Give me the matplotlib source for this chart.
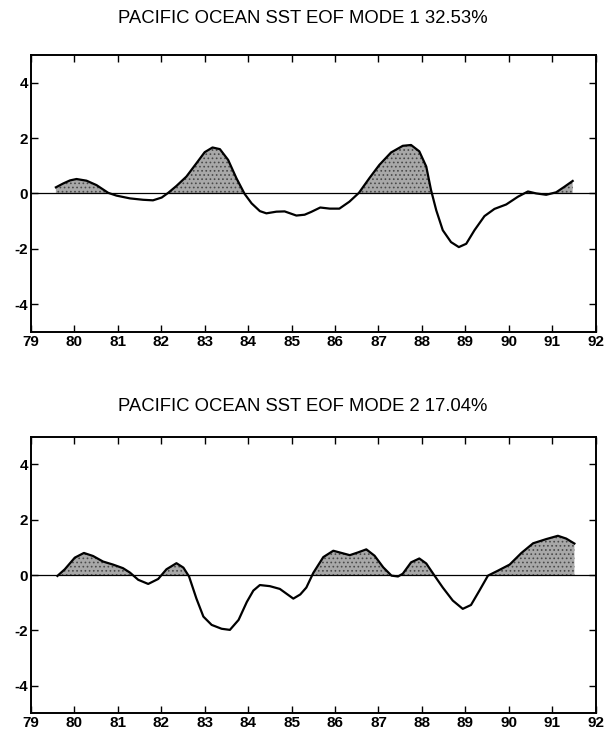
import numpy as np
import matplotlib
matplotlib.use("Agg")
import matplotlib.pyplot as plt

plt.rcParams["font.family"] = ["Liberation Sans", "DejaVu Sans"]
plt.rcParams["axes.unicode_minus"] = False
plt.rcParams["hatch.linewidth"] = 0.7

# ------------------------------------------------------------------
# values (year, EOF amplitude)
# ------------------------------------------------------------------
mode1_year = [79.575, 79.745, 79.9, 80.05, 80.28, 80.51, 80.78, 80.97, 81.28, 81.58,
              81.81, 82.01, 82.16, 82.35, 82.58, 82.81, 83.0, 83.18, 83.35, 83.54,
              83.73, 83.92, 84.08, 84.27, 84.42, 84.65, 84.84, 85.11, 85.3, 85.45,
              85.66, 85.88, 86.1, 86.33, 86.55, 86.79, 87.02, 87.29, 87.56, 87.75,
              87.94, 88.1, 88.21, 88.33, 88.48, 88.67, 88.85, 89.02, 89.21, 89.44,
              89.67, 89.94, 90.21, 90.44, 90.63, 90.86, 91.09, 91.28, 91.47]
mode1_amp = [0.22, 0.36, 0.47, 0.52, 0.46, 0.30, 0.02, -0.08, -0.18, -0.23,
             -0.25, -0.15, 0.02, 0.27, 0.61, 1.09, 1.49, 1.66, 1.6, 1.21,
             0.55, -0.02, -0.36, -0.64, -0.72, -0.66, -0.65, -0.8, -0.77, -0.67,
             -0.51, -0.55, -0.55, -0.3, 0.02, 0.55, 1.03, 1.48, 1.72, 1.75,
             1.52, 0.97, 0.12, -0.61, -1.33, -1.76, -1.94, -1.82, -1.33, -0.82,
             -0.56, -0.4, -0.12, 0.07, 0.0, -0.05, 0.04, 0.24, 0.45]

mode2_year = [79.61, 79.78, 80.01, 80.22, 80.43, 80.66, 80.89, 81.12, 81.28, 81.47,
              81.7, 81.93, 82.12, 82.35, 82.51, 82.64, 82.81, 82.97, 83.16, 83.39,
              83.58, 83.78, 83.97, 84.12, 84.27, 84.5, 84.73, 85.04, 85.2, 85.34,
              85.5, 85.73, 85.96, 86.15, 86.34, 86.53, 86.72, 86.91, 87.11, 87.3,
              87.45, 87.56, 87.75, 87.94, 88.1, 88.29, 88.48, 88.71, 88.94, 89.13,
              89.32, 89.52, 89.75, 90.02, 90.29, 90.56, 90.86, 91.13, 91.32, 91.51]
mode2_amp = [-0.03, 0.21, 0.63, 0.8, 0.69, 0.49, 0.38, 0.25, 0.09, -0.17,
             -0.32, -0.14, 0.21, 0.43, 0.27, -0.05, -0.85, -1.5, -1.8, -1.94,
             -1.98, -1.62, -0.97, -0.56, -0.36, -0.4, -0.5, -0.85, -0.7, -0.45,
             0.08, 0.65, 0.88, 0.8, 0.72, 0.82, 0.93, 0.7, 0.28, -0.02,
             -0.05, 0.05, 0.46, 0.6, 0.42, -0.02, -0.45, -0.92, -1.22, -1.08,
             -0.57, -0.02, 0.16, 0.38, 0.8, 1.15, 1.3, 1.42, 1.32, 1.14]

titles = ["PACIFIC OCEAN SST EOF MODE 1 32.53%",
          "PACIFIC OCEAN SST EOF MODE 2 17.04%"]
xticks = list(range(79, 93))
yticks = [-4, -2, 0, 2, 4]

fig = plt.figure(figsize=(6.06, 7.34), dpi=100)
ax1 = fig.add_axes([0.051, 0.548, 0.932, 0.377])
ax2 = fig.add_axes([0.051, 0.028, 0.932, 0.377])

for ax, xs, ys, title, ty in [(ax1, mode1_year, mode1_amp, titles[0], 0.975),
                              (ax2, mode2_year, mode2_amp, titles[1], 0.446)]:
    x = np.array(xs)
    y = np.array(ys)
    # stippled grey fill above zero
    ax.fill_between(x, y, 0, where=y > 0, interpolate=True,
                    facecolor="#a8a8a8", edgecolor="#4a4a4a", hatch="....",
                    linewidth=0)
    ax.plot(x, y, color="black", lw=1.6, solid_joinstyle="round")
    ax.axhline(0, color="black", lw=0.9)
    ax.set_xlim(79, 92)
    ax.set_ylim(-5, 5)
    ax.set_xticks(xticks)
    ax.set_xticklabels([str(v) for v in xticks], fontweight="bold", fontsize=11)
    ax.set_yticks(yticks)
    ax.set_yticklabels([str(v) for v in yticks], fontweight="bold", fontsize=11)
    ax.tick_params(direction="in", top=True, right=True, length=5, width=1.0,
                   pad=2)
    for s in ax.spines.values():
        s.set_linewidth(1.4)
    # title is centred on the page, not on the axes
    fig.text(0.5, ty, title, ha="center", va="center", fontsize=13.3)

fig.savefig("out.png", dpi=100)
